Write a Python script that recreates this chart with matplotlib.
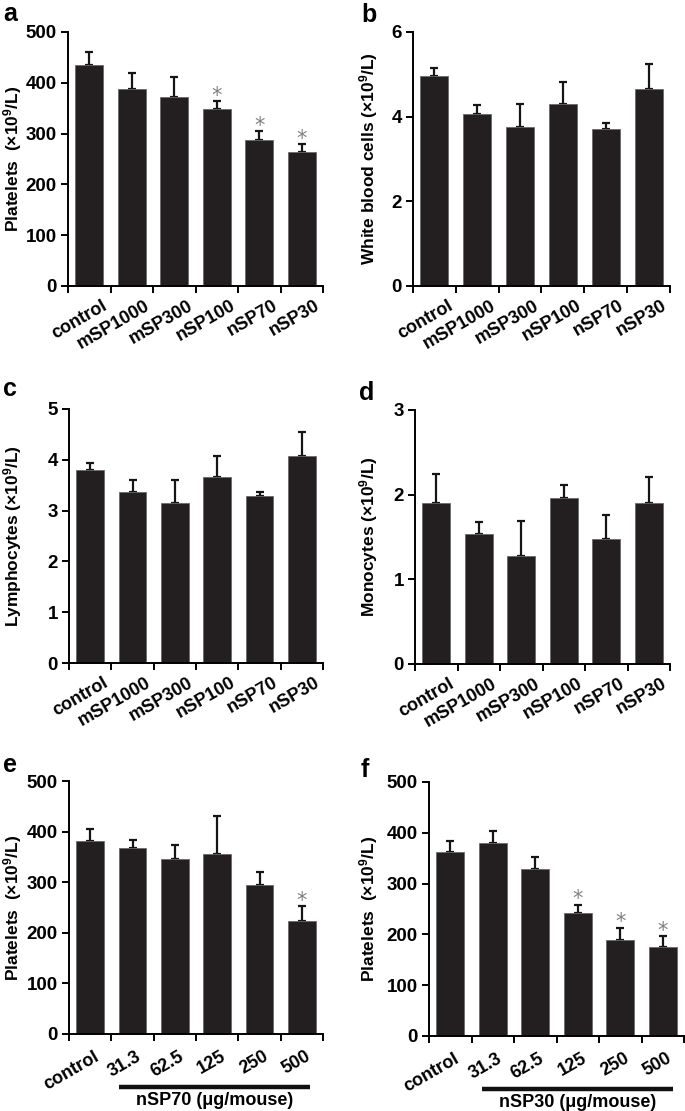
import numpy as np
import matplotlib
matplotlib.use('Agg')
import matplotlib.pyplot as plt
from matplotlib.transforms import blended_transform_factory, ScaledTranslation

plt.rcParams['font.family'] = ['Liberation Sans', 'DejaVu Sans']
plt.rcParams['mathtext.fontset'] = 'custom'
plt.rcParams['mathtext.rm'] = 'Liberation Sans:bold'
plt.rcParams['mathtext.it'] = 'Liberation Sans:bold'
plt.rcParams['mathtext.bf'] = 'Liberation Sans:bold'

# --- data ---
groups = ['control', 'mSP1000', 'mSP300', 'nSP100', 'nSP70', 'nSP30']
doses = ['control', '31.3', '62.5', '125', '250', '500']

platelets = [435, 388, 373, 349, 287, 264]
platelets_err = [25, 32, 38, 15, 18, 15]
platelets_sig = [3, 4, 5]

wbc = [4.96, 4.06, 3.76, 4.31, 3.72, 4.65]
wbc_err = [0.20, 0.22, 0.54, 0.51, 0.12, 0.59]

lympho = [3.80, 3.37, 3.15, 3.66, 3.28, 4.07]
lympho_err = [0.14, 0.23, 0.45, 0.42, 0.08, 0.48]

mono = [1.90, 1.54, 1.27, 1.96, 1.48, 1.90]
mono_err = [0.35, 0.14, 0.42, 0.16, 0.28, 0.31]

nsp70 = [382, 367, 345, 355, 295, 223]
nsp70_err = [24, 17, 29, 75, 25, 29]
nsp70_sig = [5]

nsp30 = [362, 379, 328, 243, 189, 175]
nsp30_err = [22, 25, 25, 15, 24, 21]
nsp30_sig = [3, 4, 5]

unit = '(×10$^{9}$/L)'

W, H = 685, 1111
fig = plt.figure(figsize=(W / 100, H / 100), dpi=100)


def px(l, t, r, b):
    return [l / W, 1 - b / H, (r - l) / W, (b - t) / H]


def panel(rect, letter, letter_xy, values, errors, labels, ylabel, label_x,
          ymax, ystep, stars=(), xoff=0.3, ygap=8):
    ax = fig.add_axes(px(*rect))
    x = np.arange(len(values))
    ax.bar(x, values, width=0.65, color='#231f20', edgecolor='#6a6a6a',
           linewidth=0.6, zorder=2)
    ax.errorbar(x, values, yerr=[np.zeros(len(values)), errors], fmt='none',
                ecolor='#151515', elinewidth=1.6, capsize=3, capthick=1.6, zorder=1)
    for i in stars:
        ax.annotate('*', xy=(i, values[i] + errors[i]), xytext=(0, 4),
                    textcoords='offset points', ha='center', va='center',
                    fontsize=15, color='#808080', family='DejaVu Sans',
                    annotation_clip=False)
    ax.set_xlim(-0.5, len(values) - 0.5)
    ax.set_ylim(0, ymax)
    ax.set_yticks(np.arange(0, ymax + ystep / 2, ystep))
    ax.set_xticks(np.arange(-0.5, len(values), 1))
    ax.set_xticklabels([])
    for s in ['top', 'right']:
        ax.spines[s].set_visible(False)
    for s in ['left', 'bottom']:
        ax.spines[s].set_linewidth(1.4)
    ax.tick_params(direction='out', length=5, width=1.4, labelsize=13.5, pad=3)
    for lab in ax.get_yticklabels():
        lab.set_fontweight('bold')
    ax.set_ylabel(ylabel, fontsize=12.5, fontweight='bold')
    ax.yaxis.set_label_coords((label_x - rect[0]) / (rect[2] - rect[0]), 0.5)

    trans = blended_transform_factory(ax.transData, ax.transAxes)
    off = ScaledTranslation(0, -ygap / 72, fig.dpi_scale_trans)
    for i, lab in enumerate(labels):
        ax.text(i + xoff, 0, lab, transform=trans + off, rotation=30,
                ha='right', va='top', rotation_mode='anchor',
                fontsize=13, fontweight='bold')
    fig.text(letter_xy[0] / W, 1 - letter_xy[1] / H, letter, fontsize=18,
             fontweight='bold', va='baseline', ha='left')
    return ax


def underline(ax, x0, x1, text):
    trans = blended_transform_factory(ax.transData, ax.transAxes)
    ax.plot([x0, x1], [-0.21, -0.21], transform=trans, color='#111111', lw=3.2,
            clip_on=False, solid_capstyle='butt')
    ax.text((x0 + x1) / 2, -0.262, text, transform=trans, ha='center',
            va='center', fontsize=13, fontweight='bold')


panel((68, 32, 323, 286), 'a', (3, 21), platelets, platelets_err, groups,
      'Platelets  ' + unit, 24, 500, 100, stars=platelets_sig)
panel((413, 32, 670, 286), 'b', (361, 22), wbc, wbc_err, groups,
      'White blood cells ' + unit, 380, 6, 2)
panel((69, 409, 323, 663), 'c', (3, 396), lympho, lympho_err, groups,
      'Lymphocytes ' + unit, 24, 5, 1)
panel((415, 410, 670, 664), 'd', (359, 400), mono, mono_err, groups,
      'Monocytes ' + unit, 380, 3, 1)
ax_e = panel((69, 781, 323, 1034), 'e', (3, 772), nsp70, nsp70_err, doses,
             'Platelets  ' + unit, 24, 500, 100, stars=nsp70_sig, xoff=0.08, ygap=10)
ax_f = panel((429, 782, 684, 1036), 'f', (361, 777), nsp30, nsp30_err, doses,
             'Platelets  ' + unit, 380, 500, 100, stars=nsp30_sig, xoff=0.08, ygap=10)
underline(ax_e, 0.67, 5.2, 'nSP70 (μg/mouse)')
underline(ax_f, 0.75, 5.24, 'nSP30 (μg/mouse)')

fig.savefig('out.png', dpi=100)
